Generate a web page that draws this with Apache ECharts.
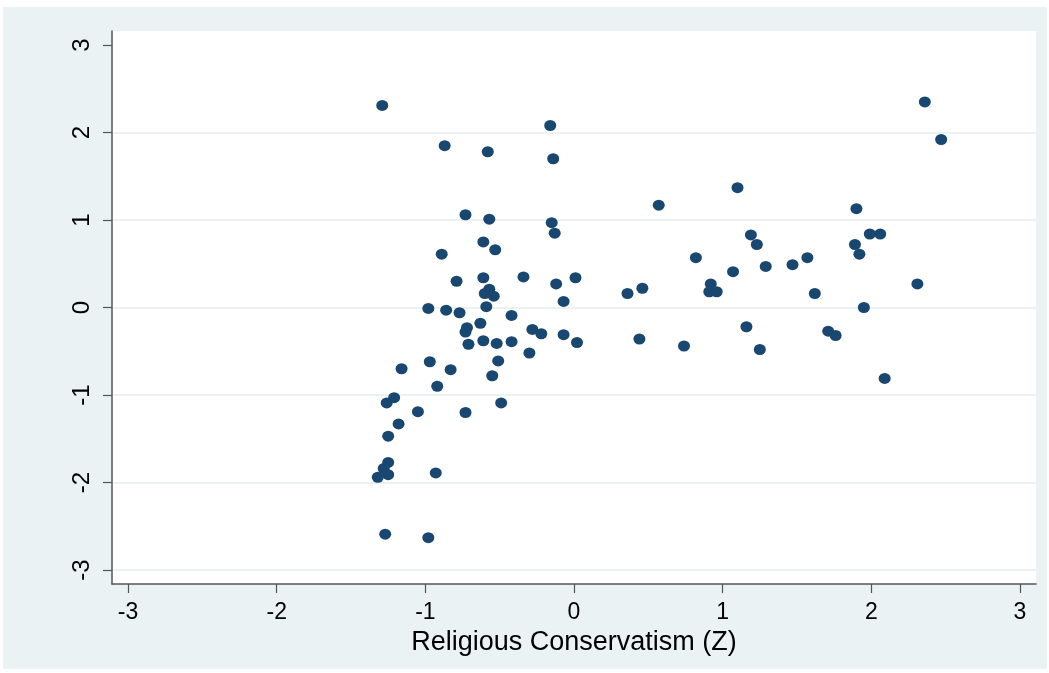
<!DOCTYPE html>
<html>
<head>
<meta charset="utf-8">
<script src="https://cdn.jsdelivr.net/npm/echarts@6/dist/echarts.min.js"></script>
<style>
html,body{margin:0;padding:0;background:#fff;}
#chart{width:1049px;height:673px;}
</style>
</head>
<body>
<div id="chart"></div>
<script>
// Religious Conservatism (Z) on x, outcome (Z) on y
const xValues = [
  -1.29, -0.16, -0.87, -0.58, -0.14, -0.73, -0.57, -0.15, -0.13, -0.61,
  -0.53, -0.89, -0.79, -0.61, -0.34, -0.12, 0.01, -0.60, -0.57, -0.54,
  -0.07, -0.59, -0.98, -0.86, -0.77, -0.42, -0.63, -0.72, -0.73, -0.61,
  -0.71, -0.52, -0.42, -0.28, -0.22, -0.07, 0.02, -0.30, -0.51, -0.55,
  -1.16, -0.97, -0.83, -0.92, -1.21, -1.26, -0.49, -1.05, -0.73, -1.18,
  -1.25, -1.25, -1.28, -1.25, -1.32, -0.93, -1.27, -0.98,
  2.36, 2.47, 1.10, 0.57, 1.90, 1.19, 1.23, 1.99, 2.06, 1.89,
  1.92, 0.82, 1.57, 1.47, 1.29, 1.07, 0.92, 0.91, 0.96, 0.46,
  0.36, 1.62, 2.31, 1.95, 1.16, 0.44, 0.74, 1.25, 1.71, 1.76, 2.09
];
const yValues = [
  2.31, 2.08, 1.85, 1.78, 1.70, 1.06, 1.01, 0.97, 0.85, 0.75,
  0.66, 0.61, 0.30, 0.34, 0.35, 0.27, 0.34, 0.16, 0.21, 0.13,
  0.07, 0.01, -0.01, -0.03, -0.06, -0.09, -0.18, -0.23, -0.28, -0.38,
  -0.42, -0.41, -0.39, -0.25, -0.30, -0.31, -0.40, -0.52, -0.61, -0.78,
  -0.70, -0.62, -0.71, -0.90, -1.03, -1.09, -1.09, -1.19, -1.20, -1.33,
  -1.47, -1.77, -1.84, -1.91, -1.94, -1.89, -2.59, -2.63,
  2.35, 1.92, 1.37, 1.17, 1.13, 0.83, 0.72, 0.84, 0.84, 0.72,
  0.61, 0.57, 0.57, 0.49, 0.47, 0.41, 0.27, 0.18, 0.18, 0.22,
  0.16, 0.16, 0.27, 0.00, -0.22, -0.36, -0.44, -0.48, -0.27, -0.32, -0.81
];
const tickValues = [-3, -2, -1, 0, 1, 2, 3];
const xTitle = 'Religious Conservatism (Z)';

const points = xValues.map((x, i) => [x, yValues[i]]);
const font = '"Liberation Sans", Arial, Helvetica, sans-serif';
const axisColor = '#555555';
const gridColor = '#eaf2f3';

const chart = echarts.init(document.getElementById('chart'), null, {renderer: 'canvas'});
chart.setOption({
  backgroundColor: '#ffffff',
  animation: false,
  graphic: [{
    type: 'rect', z: -10, silent: true,
    shape: {x: 3, y: 7, width: 1044, height: 662},
    style: {fill: gridColor}
  }],
  grid: {
    left: 112, right: 13, top: 31, bottom: 89,
    show: true, backgroundColor: '#ffffff', borderWidth: 0
  },
  xAxis: {
    type: 'value',
    min: -3.108, max: 3.108,
    name: xTitle,
    nameLocation: 'middle',
    nameGap: 38,
    nameTextStyle: {fontFamily: font, fontSize: 27, color: '#000'},
    axisLine: {show: true, onZero: false, lineStyle: {color: axisColor, width: 1.5}},
    axisTick: {show: true, inside: false, length: 9, customValues: tickValues, lineStyle: {color: axisColor, width: 1.2}},
    axisLabel: {show: true, customValues: tickValues, margin: 17, fontFamily: font, fontSize: 23, color: '#000',
      formatter: v => String(Math.round(v))},
    splitLine: {show: false}
  },
  yAxis: {
    type: 'value',
    min: -3.16, max: 3.16,
    axisLine: {show: true, onZero: false, lineStyle: {color: axisColor, width: 1.5}},
    axisTick: {show: true, inside: false, length: 9, customValues: tickValues, lineStyle: {color: axisColor, width: 1.2}},
    axisLabel: {show: true, customValues: tickValues, rotate: 90, margin: 18, fontFamily: font, fontSize: 24, color: '#000',
      formatter: v => String(Math.round(v))},
    splitLine: {show: true, lineStyle: {color: [gridColor, gridColor, gridColor, gridColor, gridColor, gridColor, 'rgba(0,0,0,0)'], width: 2}}
  },
  series: [{
    type: 'scatter',
    data: points,
    symbol: 'circle',
    symbolSize: [12, 11],
    itemStyle: {color: '#1a476f', opacity: 1},
    z: 3
  }]
});
</script>
</body>
</html>
